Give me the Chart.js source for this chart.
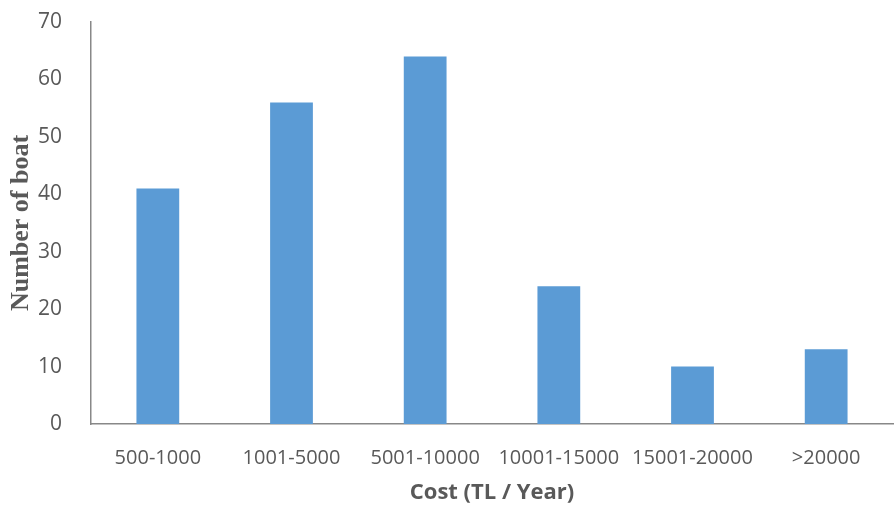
<!DOCTYPE html>
<html>
<head>
    <title>Boat cost</title>
    <script src="https://cdn.jsdelivr.net/npm/chart.js@4.4.1/dist/chart.umd.min.js"></script>
    <style>
        html, body { margin: 0; padding: 0; background: #fff; }
        #wrap { width: 894px; height: 508px; }
    </style>
</head>
<body>
<div id="wrap"><canvas id="stage" width="894" height="508"></canvas></div>
<script>
    // data
    var categories = ['500-1000', '1001-5000', '5001-10000', '10001-15000', '15001-20000', '>20000'];
    var boats = [41, 56, 64, 24, 10, 13];
    var yTicks = [0, 10, 20, 30, 40, 50, 60, 70];

    var gray = '#595959';
    var canvas = document.getElementById('stage');
    var chart = new Chart(canvas, {
        type: 'bar',
        data: {
            labels: categories,
            datasets: [{
                label: 'Number of boat',
                data: boats,
                backgroundColor: '#5B9BD5',
                categoryPercentage: 1,
                barPercentage: 0.32
            }]
        },
        options: {
            responsive: false,
            animation: false,
            layout: { padding: { top: 22, right: 1, left: 0, bottom: 0 } },
            plugins: { legend: { display: false }, tooltip: { enabled: false } },
            scales: {
                x: {
                    grid: { display: false },
                    border: { display: true, color: '#888888', width: 1.5 },
                    ticks: { color: gray, font: { family: 'Open Sans', size: 20 }, padding: 14, maxRotation: 0, autoSkip: false },
                    title: { display: true, text: 'Cost (TL / Year)', color: gray, font: { family: 'Open Sans', size: 22, weight: 'bold' }, padding: { bottom: 2 } },
                    afterFit: function (scale) { scale.height = 84; }
                },
                y: {
                    min: yTicks[0],
                    max: yTicks[yTicks.length - 1],
                    afterBuildTicks: function (scale) {
                        scale.ticks = yTicks.map(function (v) { return { value: v }; });
                    },
                    grid: { display: false },
                    border: { display: true, color: '#888888', width: 1.5 },
                    ticks: { color: gray, font: { family: 'Open Sans', size: 21 }, padding: 21 },
                    title: { display: true, text: 'Number of boat', color: gray, font: { family: 'Liberation Serif', size: 26, weight: 'bold' }, padding: { top: 6 } },
                    afterFit: function (scale) {
                        scale.width = 91;
                        scale.paddingTop = 0;
                        scale.paddingBottom = 0;
                    }
                }
            }
        }
    });
</script>
</body>
</html>
